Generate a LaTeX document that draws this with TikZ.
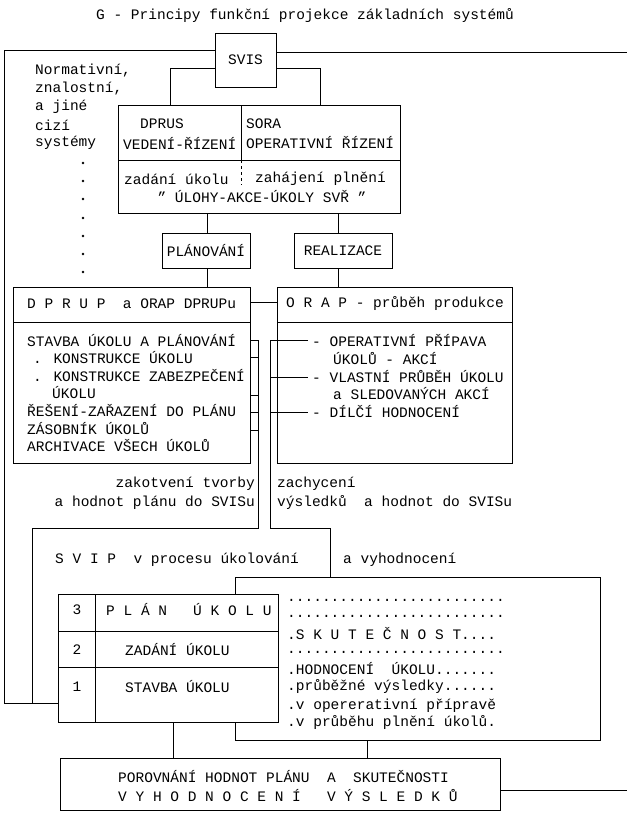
\documentclass[tikz,border=0pt]{standalone}
\usepackage{fontspec}
\setmainfont{Liberation Mono}
\begin{document}
\begin{tikzpicture}[x=1pt,y=-1pt,
  t/.style={anchor=west,inner sep=0pt,font=\fontsize{14.5}{17}\selectfont},
  tc/.style={anchor=center,inner sep=0pt,font=\fontsize{14.5}{17}\selectfont},
  bx/.style={draw,line width=0.9pt,fill=white},
  ln/.style={line width=0.9pt}]
\useasboundingbox (0,0) rectangle (627,816);
\node[tc] (title) at (305,16) {G - Principy funkční projekce základních systémů};
% SVIS
\node[bx,minimum width=61pt,minimum height=54pt,inner sep=0pt] (svis) at (245.5,60) {};
\node[tc] (svist) at (svis) {SVIS};
\draw[ln] (32,703) -| (4,50) -- (svis.west |- 0,50);
\draw[ln] (svis.east |- 0,52) -- (627,52);
% DPRUS/SORA
\draw[bx] (118,105) rectangle (400,213);
\coordinate (top1) at (170,105); \coordinate (top2) at (320,105);
\draw[ln] (svis.west |- 0,68) -| (top1);
\draw[ln] (svis.east |- 0,68) -| (top2);
\draw[ln] (118,160) -- (400,160);
\draw[ln] (241,105) -- (241,160);
\draw[ln,dashed] (241,160) -- (241,185);
\node[t] (dprus) at (140,124) {DPRUS};
\node[t] (vr) at (123,143) {VEDENÍ-ŘÍZENÍ};
\node[t] (sora) at (246,124) {SORA};
\node[t] (or) at (246,143) {OPERATIVNÍ ŘÍZENÍ};
\node[t] (zu) at (124,179) {zadání úkolu};
\node[t] (zp) at (255,179) {zahájení plnění};
\node[tc] (ul) at (262,197) {" ÚLOHY-AKCE-ÚKOLY SVŘ "};
% left text
\node[t] (n1) at (35,71) {Normativní,};
\node[t] (n2) at (35,89) {znalostní,};
\node[t] (n3) at (35,107) {a jiné};
\node[t] (n4) at (35,125) {cizí};
\node[t] (n5) at (35,143) {systémy};
\foreach \y in {163,181,199,218,236,254,272}{\fill (83,\y) circle (1.3pt);}
% planning/realization
\node[bx,minimum width=88pt,minimum height=35pt,inner sep=0pt] (plan) at (206,250.5) {};
\node[tc] (plant) at (plan) {PLÁNOVÁNÍ};
\node[bx,minimum width=98pt,minimum height=35pt,inner sep=0pt] (real) at (343,250.5) {};
\node[tc] (realt) at (real) {REALIZACE};
\draw[ln] (207,213) -- (plan.north -| 207,0);
\draw[ln] (338,213) -- (real.north -| 338,0);
\draw[ln] (plan.south -| 207,0) -- (207,287);
\draw[ln] (real.south -| 338,0) -- (338,287);
% DPRUP
\draw[bx] (13,287) rectangle (250,463);
\draw[ln] (13,322) -- (250,322);
\node[t] (dh) at (27,304) {D P R U P~~a ORAP DPRUPu};
\node[t] (l1) at (27,341) {STAVBA ÚKOLU A PLÁNOVÁNÍ};
\node[t] (l2) at (33,358) {. KONSTRUKCE ÚKOLU};
\node[t] (l3) at (33,376) {. KONSTRUKCE ZABEZPEČENÍ};
\node[t] (l4) at (52,393) {ÚKOLU};
\node[t] (l5) at (27,411) {ŘEŠENÍ-ZAŘAZENÍ DO PLÁNU};
\node[t] (l6) at (27,429) {ZÁSOBNÍK ÚKOLŮ};
\node[t] (l7) at (27,446) {ARCHIVACE VŠECH ÚKOLŮ};
% ORAP
\draw[bx] (277,287) rectangle (512,463);
\draw[ln] (277,322) -- (512,322);
\draw[ln] (250,302) -- (277,302);
\node[t] (oh) at (286,304) {O R A P - průběh produkce};
\node[t] (r1) at (312,341) {- OPERATIVNÍ PŘÍPAVA};
\node[t] (r2) at (333,359) {ÚKOLŮ - AKCÍ};
\node[t] (r3) at (312,377) {- VLASTNÍ PRŮBĚH ÚKOLU};
\node[t] (r4) at (333,394) {a SLEDOVANÝCH AKCÍ};
\node[t] (r5) at (312,412) {- DÍLČÍ HODNOCENÍ};
% brackets
\draw[ln] (250,340) -| (258,528) -| (32,703) -- (58,703);
\foreach \y in {357,395,412,430}{\draw[ln] (250,\y) -- (258,\y);}
\draw[ln] (308,340) -| (270,528) -| (330,577);
\foreach \y in {377,412}{\draw[ln] (270,\y) -- (308,\y);}
\node[anchor=east,inner sep=0pt,font=\fontsize{14.5}{17}\selectfont] (z1) at (255,484) {zakotvení tvorby};
\node[anchor=east,inner sep=0pt,font=\fontsize{14.5}{17}\selectfont] (z2) at (255,503) {a hodnot plánu do SVISu};
\node[t] (z3) at (277,484) {zachycení};
\node[t] (z4) at (277,503) {výsledků~~a hodnot do SVISu};
\node[t] (sv) at (55,560) {S V I P~~v procesu úkolování};
\node[t] (av) at (343,560) {a vyhodnocení};
% skutecnost box
\draw[bx] (235,577) rectangle (600,740);
\node[t] (d1) at (287,600) {.........................};
\node[t] (d2) at (287,616) {.........................};
\node[t] (d3) at (287,634) {.S K U T E Č N O S T....};
\node[t] (d4) at (287,652) {.........................};
\node[t] (d5) at (287,669) {.HODNOCENÍ~~ÚKOLU.......};
\node[t] (d6) at (287,687) {.průběžné výsledky......};
\node[t] (d7) at (287,706) {.v opererativní přípravě};
\node[t] (d8) at (287,723) {.v průběhu plnění úkolů.};
% table
\draw[bx] (58,594) rectangle (278,722);
\draw[ln] (58,631) -- (278,631);
\draw[ln] (58,667) -- (278,667);
\draw[ln] (95,594) -- (95,722);
\node[tc] (n3r) at (77,610) {3};
\node[t] (pu) at (106,610) {P L Á N~~~Ú K O L U};
\node[tc] (n2r) at (77,650) {2};
\node[t] (za) at (125,650) {ZADÁNÍ ÚKOLU};
\node[tc] (n1r) at (77,687) {1};
\node[t] (st) at (125,687) {STAVBA ÚKOLU};
% bottom
\draw[bx] (60,758) rectangle (500,810);
\draw[ln] (173,722) -- (173,758);
\draw[ln] (367,740) -- (367,758);
\draw[ln] (500,790) -- (627,790);
\node[t] (b1) at (118,777) {POROVNÁNÍ HODNOT PLÁNU~~A~~SKUTEČNOSTI};
\node[t] (b2) at (118,796) {V Y H O D N O C E N Í~~~V Ý S L E D K Ů};
\end{tikzpicture}
\end{document}
